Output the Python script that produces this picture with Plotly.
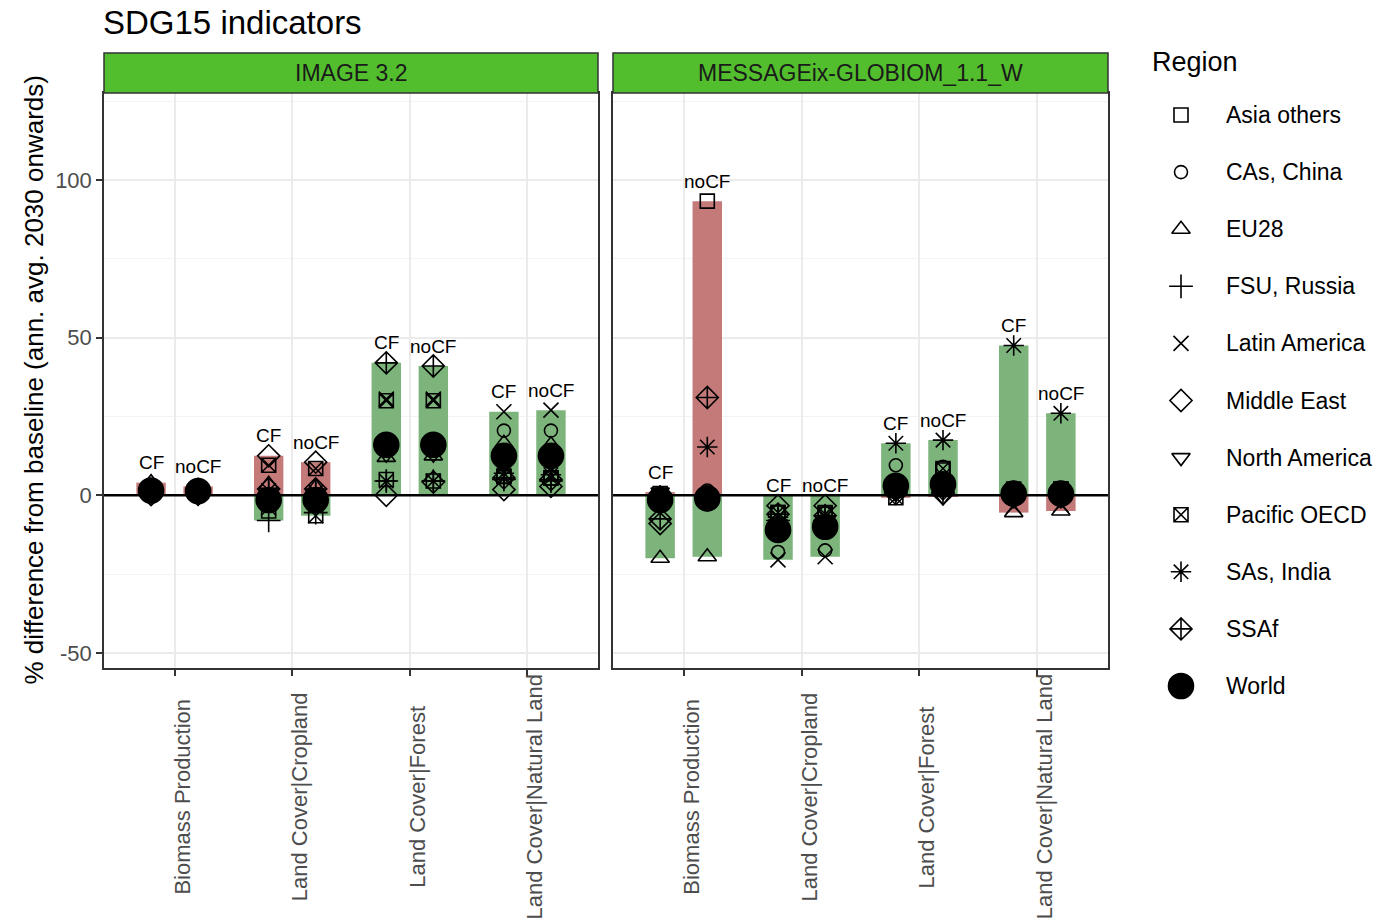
import plotly.graph_objects as go

# ---------------------------------------------------------------- data
regions = ["Asia others", "CAs, China", "EU28", "FSU, Russia", "Latin America",
           "Middle East", "North America", "Pacific OECD", "SAs, India", "SSAf", "World"]
variables = ["Biomass Production", "Land Cover|Cropland", "Land Cover|Forest",
             "Land Cover|Natural Land"]
models = ["IMAGE 3.2", "MESSAGEix-GLOBIOM_1.1_W"]
scenarios = ["CF", "noCF"]
# increase of the indicator is desirable (True) or undesirable (False)
increase_good = [False, False, True, True]
y_ticks = [-50, 0, 50, 100]
y_tick_text = ["-50", "0", "50", "100"]

# % difference from baseline, one value per region (order of `regions`)
image_biomass_cf = [1.0, 1.2, 4.0, 0.8, 1.5, 0.2, 1.8, 2.0, 1.0, 1.6, 1.5]
image_biomass_nocf = [0.8, 1.0, 2.8, 0.5, 1.2, 0.3, 1.5, 1.6, 0.9, 1.4, 1.3]
image_cropland_cf = [-5.0, -3.0, 3.5, -8.0, -4.0, 12.5, -1.0, 9.5, 1.5, 2.0, -1.5]
image_cropland_nocf = [-6.5, -2.5, 2.5, -5.5, -6.5, 10.5, -1.0, 8.5, 1.0, 2.0, -1.5]
image_forest_cf = [5.0, 15.0, 12.0, 4.5, 30.5, 0.0, 13.0, 30.0, 4.5, 42.0, 16.0]
image_forest_nocf = [4.5, 15.5, 12.5, 4.5, 30.5, 4.2, 13.0, 30.0, 4.5, 41.0, 16.0]
image_natural_cf = [6.0, 20.5, 16.5, 5.0, 26.5, 1.8, 10.0, 6.0, 7.0, 5.5, 12.5]
image_natural_nocf = [5.5, 20.5, 16.0, 4.5, 27.0, 2.8, 10.0, 5.5, 6.5, 5.0, 12.5]

message_biomass_cf = [0.5, -0.5, -20.0, -1.0, -2.0, -9.0, 1.0, -1.0, 0.0, -7.5, -1.5]
message_biomass_nocf = [93.3, 1.5, -19.5, -1.0, -2.0, -1.5, 0.5, -0.5, 15.3, 31.0, -1.0]
message_cropland_cf = [-5.5, -18.0, -12.0, -8.0, -20.5, -3.3, -9.0, -5.5, -7.0, -6.0, -11.0]
message_cropland_nocf = [-5.5, -17.5, -11.0, -8.0, -19.5, -3.3, -9.0, -6.0, -7.0, -6.5, -10.0]
message_forest_cf = [2.5, 9.5, 4.0, 1.0, 1.5, 0.5, 0.5, -0.8, 16.5, 2.0, 3.0]
message_forest_nocf = [8.0, 9.0, 4.0, 1.0, 1.5, 0.5, -0.5, 8.5, 17.5, 2.0, 3.5]
message_natural_cf = [1.5, 0.5, -5.5, 0.0, -3.5, -0.5, -1.0, 2.0, 47.5, 1.0, 0.5]
message_natural_nocf = [2.0, 0.5, -5.0, 0.0, -3.0, -0.5, -1.0, 2.0, 26.0, 1.0, 0.5]

values = {
    ("IMAGE 3.2", "CF"): [image_biomass_cf, image_cropland_cf, image_forest_cf, image_natural_cf],
    ("IMAGE 3.2", "noCF"): [image_biomass_nocf, image_cropland_nocf, image_forest_nocf, image_natural_nocf],
    ("MESSAGEix-GLOBIOM_1.1_W", "CF"): [message_biomass_cf, message_cropland_cf,
                                        message_forest_cf, message_natural_cf],
    ("MESSAGEix-GLOBIOM_1.1_W", "noCF"): [message_biomass_nocf, message_cropland_nocf,
                                          message_forest_nocf, message_natural_nocf],
}

# ---------------------------------------------------------------- style
W, H = 1394, 922
FONT = "Liberation Sans, Arial, sans-serif"
RED = "rgb(197,122,122)"
GREEN = "rgb(124,180,124)"
STRIP = "rgb(83,190,45)"
BORDER = "#333333"
GRID = "#ebebeb"
TXT_GREY = "#4d4d4d"
DODGE = {"CF": -0.2, "noCF": 0.2}
BAR_W = 0.25
symbols = {
    "Asia others": ("square-open", 14), "CAs, China": ("circle-open", 13),
    "EU28": ("triangle-up-open", 16), "FSU, Russia": ("cross-thin-open", 17),
    "Latin America": ("x-thin-open", 15), "Middle East": ("diamond-open", 17),
    "North America": ("triangle-down-open", 16), "Pacific OECD": ("square-x-open", 14),
    "SAs, India": ("asterisk-open", 17), "SSAf": ("diamond-cross-open", 17),
    "World": ("circle", 25),
}

panel_x = [(104, 598), (613, 1108)]
panel_top, panel_bottom = 93, 668
y_range = [-54.8, 127.6]


def px(x):
    return x / W


def py(y):
    return 1 - y / H


fig = go.Figure()
annotations = []
shapes = []

for m_i, model in enumerate(models):
    xa = "x" if m_i == 0 else "x2"
    ya = "y" if m_i == 0 else "y2"

    # range bars split at zero, coloured by whether the change is desirable
    bx, bbase, bh, bcol = [], [], [], []
    for sc in scenarios:
        for v_i, var in enumerate(variables):
            vals = values[(model, sc)][v_i]
            vmax, vmin = max(vals), min(vals)
            xpos = v_i + 1 + DODGE[sc]
            pos_col = GREEN if increase_good[v_i] else RED
            neg_col = RED if increase_good[v_i] else GREEN
            if vmax > 0:
                bx.append(xpos); bbase.append(0); bh.append(vmax); bcol.append(pos_col)
            if vmin < 0:
                bx.append(xpos); bbase.append(vmin); bh.append(-vmin); bcol.append(neg_col)
            annotations.append(dict(
                x=xpos, y=vmax, xref=xa, yref=ya, text=sc, showarrow=False,
                xanchor="center", yanchor="middle", yshift=20,
                font=dict(size=19, color="black", family=FONT)))
    fig.add_trace(go.Bar(x=bx, y=bh, base=bbase, width=BAR_W, xaxis=xa, yaxis=ya,
                         marker=dict(color=bcol, line=dict(width=0)), hoverinfo="skip"))

    # zero line
    fig.add_trace(go.Scatter(x=[0.4, 4.6], y=[0, 0], mode="lines", xaxis=xa, yaxis=ya,
                             line=dict(color="black", width=2.6), hoverinfo="skip"))

    # regional points
    for r_i, reg in enumerate(regions):
        xs, ys = [], []
        for sc in scenarios:
            for v_i in range(len(variables)):
                xs.append(v_i + 1 + DODGE[sc])
                ys.append(values[(model, sc)][v_i][r_i])
        sym, size = symbols[reg]
        fig.add_trace(go.Scatter(
            x=xs, y=ys, mode="markers", xaxis=xa, yaxis=ya, name=reg,
            marker=dict(symbol=sym, size=size, color="black",
                        line=dict(color="black", width=1.6))))

    # category labels beneath the panel
    for v_i, var in enumerate(variables):
        annotations.append(dict(
            x=v_i + 1, y=py(797), xref=xa, yref="paper", text=var, textangle=-90,
            showarrow=False, xanchor="center", yanchor="middle", xshift=7,
            font=dict(size=22, color=TXT_GREY, family=FONT)))

    # facet strip
    x0, x1 = panel_x[m_i]
    shapes.append(dict(type="rect", xref="paper", yref="paper",
                       x0=px(x0), x1=px(x1), y0=py(93), y1=py(53),
                       fillcolor=STRIP, line=dict(color=BORDER, width=1.5), layer="above"))
    annotations.append(dict(x=px((x0 + x1) / 2), y=py(73), xref="paper", yref="paper",
                            text=model, showarrow=False, xanchor="center", yanchor="middle",
                            font=dict(size=23, color="#1a1a1a", family=FONT)))

# ---------------------------------------------------------------- legend
for r_i, reg in enumerate(regions):
    sym, size = symbols[reg]
    fig.add_trace(go.Scatter(
        x=[0.5], y=[r_i], mode="markers", xaxis="x3", yaxis="y3", hoverinfo="skip",
        marker=dict(symbol=sym, size=size, color="black", line=dict(color="black", width=1.6))))
    annotations.append(dict(x=px(1224), y=r_i, xref="paper", yref="y3", text=reg,
                            xanchor="left", yanchor="middle", showarrow=False,
                            font=dict(size=23, color="black", family=FONT)))
annotations.append(dict(x=px(1150), y=py(62), xref="paper", yref="paper", text="Region",
                        xanchor="left", yanchor="middle", showarrow=False,
                        font=dict(size=27, color="black", family=FONT)))

# titles
annotations.append(dict(x=px(101), y=py(22), xref="paper", yref="paper",
                        text="SDG15 indicators", xanchor="left", yanchor="middle",
                        showarrow=False, font=dict(size=33, color="black", family=FONT)))
annotations.append(dict(x=px(33), y=py((panel_top + panel_bottom) / 2), xref="paper",
                        yref="paper", text="% difference from baseline (ann. avg. 2030 onwards)",
                        textangle=-90, showarrow=False, xanchor="center", yanchor="middle",
                        font=dict(size=26, color="black", family=FONT)))

ydomain = [py(panel_bottom), py(panel_top)]
xaxis_common = dict(range=[0.4, 4.6], tickvals=[1, 2, 3, 4], showticklabels=False,
                    showgrid=True, gridcolor=GRID, gridwidth=2, zeroline=False,
                    showline=True, mirror=True, linecolor=BORDER, linewidth=1.5,
                    ticks="outside", ticklen=6, tickcolor=BORDER, tickwidth=1.5,
                    fixedrange=True)
yaxis_common = dict(range=y_range, tickvals=y_ticks, ticktext=y_tick_text,
                    showgrid=True, gridcolor=GRID, gridwidth=2, zeroline=False,
                    showline=True, mirror=True, linecolor=BORDER, linewidth=1.5,
                    minor=dict(tickvals=[-25, 25, 75, 125], showgrid=True,
                               gridcolor="#f3f3f3", gridwidth=1, ticks=""),
                    domain=ydomain, fixedrange=True)

fig.update_layout(
    width=W, height=H, margin=dict(l=0, r=0, t=0, b=0),
    paper_bgcolor="white", plot_bgcolor="white", showlegend=False,
    barmode="overlay", font=dict(family=FONT),
    xaxis=dict(domain=[px(104), px(598)], anchor="y", **xaxis_common),
    xaxis2=dict(domain=[px(613), px(1108)], anchor="y2", **xaxis_common),
    yaxis=dict(anchor="x", ticks="outside", ticklen=6, tickcolor=BORDER, tickwidth=1.5,
               tickfont=dict(size=22, color=TXT_GREY, family=FONT), **yaxis_common),
    yaxis2=dict(anchor="x2", showticklabels=False, ticks="", **yaxis_common),
    xaxis3=dict(domain=[px(1160), px(1202)], range=[0, 1], anchor="y3", visible=False,
                fixedrange=True),
    yaxis3=dict(domain=[py(700), py(100)], range=[10.245, -0.263], anchor="x3",
                visible=False, fixedrange=True),
    annotations=annotations, shapes=shapes,
)

fig.write_html("out.html")
